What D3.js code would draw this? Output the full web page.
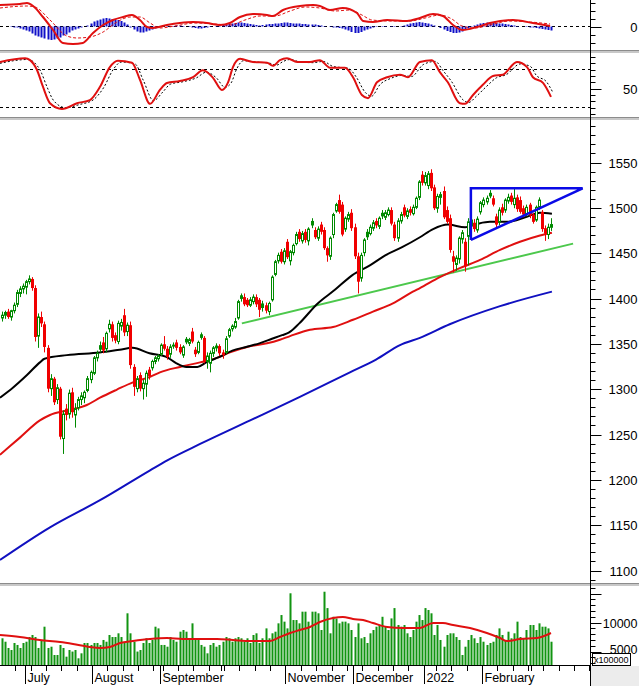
<!DOCTYPE html>
<html><head><meta charset="utf-8">
<script src="https://cdn.jsdelivr.net/npm/d3@7"></script>
<style>body{margin:0;background:#fff}svg{display:block}text{font-family:Arial,"Liberation Sans",sans-serif;fill:#000}</style>
</head><body>
<svg id="c" width="639" height="686"></svg>
<script>
// ---------------- DATA ----------------
const opens=[1378,1381,1385,1379,1386,1393,1405,1410,1412,1418,1421,1411,1358,1379,1371,1345,1300,1311,1288,1300,1245,1278,1272,1296,1271,1279,1288,1290,1298,1310,1317,1334,1348,1351,1344,1366,1371,1359,1352,1369,1381,1363,1370,1324,1300,1315,1300,1305,1321,1323,1330,1333,1338,1349,1344,1338,1347,1351,1346,1337,1355,1350,1363,1343,1340,1360,1356,1330,1328,1339,1345,1347,1340,1340,1358,1366,1368,1378,1403,1401,1398,1392,1396,1401,1398,1394,1392,1385,1398,1426,1441,1451,1440,1462,1441,1450,1460,1473,1463,1473,1463,1485,1475,1466,1481,1475,1455,1446,1470,1496,1508,1503,1476,1487,1494,1478,1446,1422,1450,1473,1471,1477,1485,1479,1494,1489,1492,1497,1481,1466,1485,1500,1490,1498,1493,1500,1511,1536,1527,1524,1538,1522,1499,1511,1518,1497,1488,1446,1437,1443,1465,1462,1468,1480,1483,1475,1495,1503,1506,1516,1510,1490,1484,1500,1497,1507,1513,1503,1511,1508,1499,1493,1503,1492,1486,1500,1495,1477,1470,1478];
const highs=[1385,1386,1388,1387,1395,1409,1413,1416,1420,1425,1423,1414,1383,1385,1374,1348,1316,1313,1305,1302,1276,1283,1299,1301,1284,1291,1296,1298,1314,1320,1336,1342,1352,1357,1363,1376,1374,1362,1375,1377,1388,1373,1374,1327,1314,1318,1310,1320,1324,1332,1336,1338,1350,1358,1347,1349,1351,1354,1349,1348,1357,1356,1367,1346,1353,1362,1358,1340,1342,1347,1350,1349,1343,1358,1367,1371,1378,1398,1405,1405,1400,1401,1404,1404,1400,1397,1395,1396,1425,1442,1450,1454,1455,1465,1453,1460,1473,1476,1474,1476,1478,1488,1478,1479,1484,1478,1457,1468,1494,1505,1514,1506,1490,1495,1498,1482,1450,1450,1466,1476,1481,1486,1488,1490,1497,1497,1500,1500,1484,1488,1495,1503,1499,1501,1503,1512,1530,1540,1539,1540,1542,1525,1515,1517,1523,1501,1492,1452,1447,1468,1475,1466,1488,1490,1487,1490,1507,1511,1513,1519,1513,1493,1500,1504,1510,1515,1516,1522,1514,1512,1502,1503,1505,1494,1502,1511,1497,1480,1482,1488];
const lows=[1374,1377,1377,1375,1383,1390,1401,1405,1404,1415,1408,1352,1345,1368,1340,1296,1292,1282,1283,1244,1228,1265,1267,1268,1257,1276,1282,1284,1296,1306,1315,1330,1340,1339,1340,1362,1352,1350,1349,1364,1358,1358,1322,1292,1296,1297,1288,1291,1310,1320,1327,1330,1336,1342,1332,1334,1344,1342,1338,1334,1349,1347,1350,1335,1338,1354,1328,1322,1318,1335,1341,1336,1333,1338,1356,1363,1366,1376,1396,1391,1390,1390,1393,1390,1379,1385,1383,1381,1396,1424,1438,1438,1437,1443,1436,1447,1458,1462,1460,1461,1458,1477,1465,1463,1470,1453,1440,1442,1466,1494,1493,1468,1473,1484,1474,1443,1405,1418,1446,1464,1469,1474,1477,1476,1487,1486,1490,1480,1463,1462,1482,1489,1487,1491,1491,1498,1508,1524,1524,1520,1518,1497,1494,1503,1487,1482,1450,1428,1430,1438,1460,1429,1436,1476,1473,1472,1492,1500,1503,1510,1501,1478,1480,1491,1494,1504,1503,1499,1495,1493,1489,1490,1488,1482,1484,1497,1473,1463,1465,1474];
const closes=[1381,1384,1379,1386,1392,1406,1410,1413,1418,1421,1411,1357,1379,1372,1346,1300,1311,1285,1301,1247,1272,1271,1295,1274,1278,1288,1292,1296,1311,1318,1334,1339,1343,1342,1361,1371,1356,1353,1372,1373,1362,1370,1326,1302,1311,1300,1306,1317,1314,1330,1334,1336,1348,1344,1335,1346,1348,1345,1340,1346,1351,1354,1352,1338,1351,1356,1330,1336,1339,1345,1347,1339,1337,1355,1365,1369,1374,1396,1399,1393,1392,1398,1401,1393,1387,1389,1386,1394,1423,1440,1447,1440,1452,1445,1451,1458,1470,1465,1471,1464,1476,1480,1467,1476,1473,1455,1447,1466,1492,1503,1495,1470,1488,1492,1477,1446,1418,1447,1464,1467,1478,1483,1480,1488,1490,1494,1497,1482,1466,1485,1492,1491,1496,1494,1500,1510,1528,1527,1535,1537,1521,1499,1512,1514,1489,1484,1453,1440,1444,1466,1472,1435,1484,1486,1476,1487,1505,1508,1510,1512,1503,1481,1497,1494,1508,1511,1506,1510,1498,1495,1492,1500,1491,1484,1500,1508,1476,1471,1478,1481];
const volumes=[7190,6600,5520,5170,6380,6040,5520,6380,6600,7410,7760,7410,5520,6900,9190,5520,5740,4310,4310,6040,5520,4020,5170,4900,5170,3740,4600,6380,6380,6040,6380,6380,6040,6900,6600,7760,7410,7410,8050,7410,6380,11500,8050,6600,4900,5170,6380,7190,6380,6900,9190,8900,6040,6040,5740,7410,6900,6600,8330,8620,8330,7190,9770,6900,7190,6040,5740,4600,6040,6380,5740,6040,6600,7410,7190,6600,7190,7410,7190,6600,7190,6380,7760,8050,6380,7190,8900,7190,8050,8330,9770,11200,10060,8900,14950,10340,10340,9770,11780,11780,10060,11780,11780,11500,8620,15220,12400,8050,10900,10600,9770,10060,10060,9770,8620,7410,9770,7190,7410,6380,8050,8620,9190,9480,10900,9190,8620,10620,12400,9480,9190,9480,8050,7410,8620,10060,11200,10340,12400,12070,11500,7760,9480,6900,5740,7760,8050,8050,7410,6900,4310,5740,6900,7760,7190,6380,7410,6600,6040,6380,6600,7760,8900,7760,6900,8330,7190,8050,10060,7410,7190,8620,9480,9480,8620,9770,9190,9190,8900,6600];
// moving averages: [bar index, value]
const maBlack=[[-0.5,1290],[3.7,1301],[8.3,1315],[12.5,1329],[14,1333],[21.3,1337],[32,1340],[38.5,1343],[42.7,1345],[48.2,1339],[53.7,1335],[57,1328],[60.2,1324],[63.8,1324],[66.7,1329],[71,1335],[75.2,1342],[79.7,1346],[84,1350],[88.1,1355],[91.4,1359],[93.7,1362],[97,1372],[103,1394],[108.6,1409],[114.2,1425],[120,1436],[125,1447],[130.5,1456],[136.3,1467],[140.6,1476],[145.4,1481],[151,1478],[155.2,1482],[159.1,1484],[164.7,1484],[170.6,1489],[175.4,1494],[179.3,1493]];
const maRed=[[-0.5,1227],[6,1246],[12.5,1265],[15.8,1271],[21.3,1276],[27.8,1282],[32.1,1290],[37.6,1299],[42.8,1307],[48.4,1313],[51.6,1318],[58.1,1324],[64.7,1329],[70.2,1334],[74.4,1340],[80,1346],[86.5,1350],[90.7,1354],[94,1358],[100.5,1365],[108,1368],[114.5,1376],[121,1385],[127.5,1394],[134,1407],[136.3,1411],[142.8,1423],[149.3,1433],[155.9,1442],[162.4,1453],[168.9,1462],[175.4,1469],[179.3,1472]];
const maBlue=[[-0.5,1111],[15.8,1147],[32.1,1177],[48.4,1210],[54,1221],[64.7,1239],[81,1265],[97.2,1291],[113.5,1318],[122,1332],[129.8,1348],[136.3,1356],[146,1371],[162.4,1391],[179.3,1407]];
const trendGreen=[[78.3,1372],[186.2,1460]];
const triangle=[[152.9,1464],[152.9,1521],[189.3,1521],[152.9,1464]];
const volMA=[[-0.5,7760],[6,7410],[12.5,6900],[19.1,6550],[23.3,6210],[28.8,5690],[32.1,5520],[35.3,5690],[38.6,6380],[42.8,6720],[48.4,7070],[53.9,7240],[59.1,7070],[64.7,7070],[70.2,7070],[75.4,6900],[81,6720],[87.5,6720],[90.7,7410],[94,8100],[97.2,8620],[100.5,9140],[103.7,10000],[108,10690],[111.2,10860],[114.5,10520],[117.8,10340],[121,9830],[125.6,9140],[130.8,8970],[136.3,8970],[140.6,9830],[143.8,9830],[147.1,9480],[152.6,8970],[158.1,8100],[162.4,7240],[164.7,6720],[168.9,7070],[174.4,7240],[179,8100]];
const macdLine=[[-0.5,21.5],[6,22.5],[8.3,23.5],[10.3,20.5],[13.5,9.5],[16.8,-3.5],[20,-16.5],[23.3,-17.5],[26.5,-16.5],[29.8,-6.5],[33.1,1.5],[36.3,6.5],[39.6,9.5],[42.5,11.5],[45.1,6.5],[47.4,-0.5],[49.3,-1.5],[53.9,1.5],[58.1,3.5],[62.4,4.5],[66.9,3.5],[71.2,1.5],[74.4,3.5],[77.7,9.5],[81.9,12.5],[86.5,11.5],[88.4,10.5],[91.7,16.5],[97.2,20.5],[101.5,21.5],[103.7,20.5],[107,16.5],[111.2,18.5],[115.8,13.5],[117.8,5.5],[121,4.5],[125.6,6.5],[132.1,5.5],[136.3,8.5],[140.6,12.5],[143.8,10.5],[147.1,1.5],[150.3,-3.5],[154.9,-0.5],[159.1,3.5],[166.6,6.5],[173.1,3.5],[178.7,0.5]];
const macdSignal=[[-0.5,18.5],[8.3,20.5],[10.9,19.5],[15.8,6.5],[21.3,-9.5],[24.6,-11.5],[28.8,-10.5],[33.1,-5.5],[37.6,4.5],[41.9,9.5],[45.1,9.5],[48.4,3.5],[51.6,-1.5],[56.5,0.5],[63,3.5],[69.5,2.5],[74.4,1.5],[79.3,6.5],[84.2,10.5],[89.1,10.5],[94,15.5],[98.9,19.5],[103.7,18.5],[108.6,15.5],[113.5,16.5],[117.4,11.5],[120.7,6.5],[126.5,5.5],[133.1,5.5],[138,8.5],[142.8,11.5],[146.7,7.5],[150,0.5],[154.2,-1.5],[159.1,1.5],[165.6,5.5],[172.2,4.5],[178.7,2.5]];
const macdHist=[0,0,0,-0.5,-1,-1,-2,-3,-4,-5,-7,-9,-10,-11,-12,-13,-13.5,-13,-12,-11,-9,-8,-6,-4,-3,-2,-1,0,1,3,5,6,7,8,8.5,8,7.5,7,6.5,5.5,4,2,-1,-3,-5,-6,-6,-5,-4,-3,-2,-1,-0.5,0,0.5,0.5,0.5,1,1,0.5,0,-0.5,-1,-1.5,-2,-2,-1.5,-1,-0.5,0,0.5,1,1.5,2,2.5,3,3.5,4,4,3.5,3,2.5,2,1.5,1,1.5,2,2.5,2.5,3,3,3.5,4,4,3.5,3,3,3,2.5,2.5,2,2,2,1.5,1,0.5,0,-0.5,-1,-1,-1.5,-2,-3,-4,-5.5,-6.5,-6.5,-5.5,-4,-3,-2,-1,-0.5,0,0.5,0.5,0,-0.5,-0.5,0,0.5,1,2,3,3.5,4,4.5,4,3.5,3,2,1,0,-1.5,-3,-4.5,-5.5,-6.5,-6.5,-6,-5,-3.5,-2,-0.5,1,2,3,3.5,4,4,3.5,3.5,3,3,2.5,2,1.5,1,0.5,0,0,-0.5,-1,-1,-1.5,-2,-2.5,-3,-3.5,-4];
const stochK=[[-0.5,91],[7.7,97],[9.3,94],[11.6,78],[13.5,52],[15.8,26],[19.7,17],[24.6,26],[28.8,31],[32.1,52],[35.3,83],[37.9,93],[42.5,90],[45.1,63],[48.4,25],[51.6,47],[53.9,58],[58.1,61],[62.4,67],[65.6,78],[68.9,66],[71.8,47],[73.8,59],[75.4,83],[77.7,96],[81.9,91],[86.5,90],[88.4,85],[90.7,94],[93,97],[96.3,91],[100.5,91],[103.7,94],[107,82],[111.9,82],[114.5,67],[117.4,39],[119.4,34],[122.3,59],[125.6,67],[129.8,71],[132.4,67],[136.3,91],[140.2,94],[142.8,75],[145.4,59],[149.3,26],[151,25],[153.6,39],[156.8,55],[160.1,69],[163.3,71],[167.9,91],[171.2,83],[173.1,67],[176.4,58],[179,36]];
const stochD=[[-0.5,89],[8.5,95],[10.5,91],[12.8,76],[14.8,52],[17,30],[20.8,19],[25.5,24],[29.8,31],[33.2,50],[36.5,80],[39,91],[43.5,88],[46.2,62],[49.5,30],[52.6,44],[55,56],[59.2,60],[63.5,66],[66.7,75],[70,66],[72.8,51],[74.8,58],[76.6,80],[78.8,93],[83,91],[87.5,89],[89.5,86],[91.8,92],[94,95],[97.4,91],[101.5,90],[104.8,92],[108,84],[113,81],[115.6,67],[118.5,43],[120.5,37],[123.4,56],[126.7,65],[130.8,70],[133.5,68],[137.4,87],[141.3,92],[143.9,77],[146.5,61],[150.4,31],[152.1,27],[154.7,37],[157.9,52],[161.2,66],[164.4,71],[169,88],[172.3,84],[174.2,70],[177.5,60],[179.5,44]];
// axes
const priceTicks=[1100,1150,1200,1250,1300,1350,1400,1450,1500,1550];
const volTicks=[5000,10000];
const monthTicks=[7.5,29.5,51.5,92.5,114.5,137.5,156.5];
const monthLabels=["July","August","September","November","December","2022","February"];
const weekTicks=[4.5,9.5,14.5,19.5,24.5,34.5,39.5,44.5,49.5,52.5,57.5,62.5,67.5,71.5,72.5,77.5,82.5,87.5,97.5,102.5,107.5,112.5,117.5,122.5,127.5,132.5,141.5,146.5,151.5,161.5,166.5,171.5,172.5,176.5,181.5,186.5,191.5];

// ---------------- LAYOUT ----------------
const AX=590;
const svg=d3.select('#c');
const x=d3.scaleLinear().domain([0,179]).range([1.5,551]);
const yM=d3.scaleLinear().domain([0,10]).range([26.5,16.5]);
const yS=d3.scaleLinear().domain([20,80]).range([107,69]);
const yP=d3.scaleLinear().domain([1100,1550]).range([570,162]);
const yV=d3.scaleLinear().domain([5000,10000]).range([651,622]);
const panels={macd:[0,50],stoch:[53,117],price:[120,583],vol:[586,665]};

const defs=svg.append('defs');
Object.entries(panels).forEach(([k,[a,b]])=>{
  defs.append('clipPath').attr('id','cl-'+k).append('rect').attr('x',0).attr('y',a).attr('width',AX).attr('height',b-a);
});
const gM=svg.append('g').attr('clip-path','url(#cl-macd)');
const gS=svg.append('g').attr('clip-path','url(#cl-stoch)');
const gP=svg.append('g').attr('clip-path','url(#cl-price)');
const gV=svg.append('g').attr('clip-path','url(#cl-vol)');
const cx=i=>Math.round(x(i))+0.5;

// ---- MACD panel
gM.append('line').attr('x1',0).attr('x2',AX).attr('y1',yM(0)).attr('y2',yM(0)).attr('stroke','#000').attr('stroke-dasharray','3,3');
gM.selectAll('line.h').data(macdHist).join('line').attr('class','h')
  .attr('x1',(d,i)=>cx(i)).attr('x2',(d,i)=>cx(i)).attr('y1',yM(0)).attr('y2',d=>yM(d))
  .attr('stroke','#1010c8').attr('stroke-width',2);
const lineF=(ys)=>d3.line().x(d=>x(d[0])).y(d=>ys(d[1])).curve(d3.curveMonotoneX);
gM.append('path').attr('d',lineF(yM)(macdSignal)).attr('fill','none').attr('stroke','#e01010').attr('stroke-width',1).attr('stroke-dasharray','3,2');
gM.append('path').attr('d',lineF(yM)(macdLine)).attr('fill','none').attr('stroke','#e01010').attr('stroke-width',2);

// ---- Stochastic panel
[80,20].forEach(v=>gS.append('line').attr('x1',0).attr('x2',AX).attr('y1',Math.round(yS(v))+0.5).attr('y2',Math.round(yS(v))+0.5).attr('stroke','#000').attr('stroke-dasharray','3,3'));
gS.append('path').attr('d',lineF(yS)(stochD)).attr('fill','none').attr('stroke','#000').attr('stroke-width',1).attr('stroke-dasharray','2,2');
gS.append('path').attr('d',lineF(yS)(stochK)).attr('fill','none').attr('stroke','#e01010').attr('stroke-width',2);

// ---- Price panel
const lin=d3.line().x(d=>x(d[0])).y(d=>yP(d[1]));
gP.append('path').attr('d',lineF(yP)(maBlue)).attr('fill','none').attr('stroke','#1010c0').attr('stroke-width',2);
gP.append('path').attr('d',lin(trendGreen)).attr('fill','none').attr('stroke','#4cc84c').attr('stroke-width',2);
gP.append('path').attr('d',lineF(yP)(maRed)).attr('fill','none').attr('stroke','#e01010').attr('stroke-width',2);
gP.append('path').attr('d',lineF(yP)(maBlack)).attr('fill','none').attr('stroke','#000').attr('stroke-width',2);
const candles=closes.map((c,i)=>({i,o:opens[i],h:highs[i],l:lows[i],c,pc:i>0?closes[i-1]:opens[i]}));
const col=d=>d.c>=d.pc?'#008a00':'#f00000';
const cg=gP.append('g');
cg.selectAll('line').data(candles).join('line')
  .attr('x1',d=>cx(d.i)).attr('x2',d=>cx(d.i)).attr('y1',d=>yP(d.h)).attr('y2',d=>yP(d.l)).attr('stroke',col).attr('stroke-width',1);
cg.selectAll('rect').data(candles).join('rect')
  .attr('x',d=>d.c>d.o?cx(d.i)-1:cx(d.i)-1.5)
  .attr('y',d=>yP(Math.max(d.o,d.c)))
  .attr('width',d=>d.c>d.o?2:3)
  .attr('height',d=>Math.max(1,Math.abs(yP(d.o)-yP(d.c))))
  .attr('fill',d=>d.c>d.o?'#fff':col(d))
  .attr('stroke',d=>d.c>d.o?col(d):'none').attr('stroke-width',1);
gP.append('path').attr('d',lin(triangle)).attr('fill','none').attr('stroke','#0a0ae6').attr('stroke-width',2.5);

// ---- Volume panel
gV.selectAll('rect').data(volumes).join('rect')
  .attr('x',(d,i)=>Math.round(x(i))-0.5).attr('width',2)
  .attr('y',d=>yV(d)).attr('height',d=>665-yV(d)).attr('fill','#119411');
gV.append('path').attr('d',lineF(yV)(volMA)).attr('fill','none').attr('stroke','#e01010').attr('stroke-width',2);

// ---- separators
[[50,53],[117,120],[583,586]].forEach(([a,b])=>{
  svg.append('rect').attr('x',0).attr('y',a).attr('width',639).attr('height',b-a).attr('fill','#c8c8c8');
  svg.append('line').attr('x1',0).attr('x2',639).attr('y1',a+0.5).attr('y2',a+0.5).attr('stroke','#8c8c8c');
});

// ---- corner box (drawn before the axis labels so the 5000 label stays readable on top edge)
svg.append('rect').attr('x',591).attr('y',666).attr('width',48).attr('height',20).attr('fill','#ececec');
svg.append('rect').attr('x',592.5).attr('y',653.5).attr('width',38).attr('height',12).attr('fill','#fff').attr('stroke','#000');
svg.append('text').attr('x',594).attr('y',663).attr('font-size',9).text('x100000');

// ---- right axes
const axG=svg.append('g');
axG.append('line').attr('x1',AX+0.5).attr('x2',AX+0.5).attr('y1',0).attr('y2',686).attr('stroke','#000');
function yaxis(scale,major,minor,labels,yr,fs){
  const g=axG.append('g').attr('transform',`translate(${AX+0.5},0)`);
  const inR=v=>{const p=scale(v);return p>yr[0]+1&&p<yr[1]-1;};
  g.call(d3.axisRight(scale).tickValues(minor.filter(inR)).tickSize(5).tickFormat(''));
  g.call(g2=>g2.select('.domain').remove());
  const g3=axG.append('g').attr('transform',`translate(${AX+0.5},0)`);
  g3.call(d3.axisRight(scale).tickValues(major.filter(inR)).tickSize(11).tickFormat(d=>labels?d:''));
  g3.select('.domain').remove();
  g3.selectAll('text').attr('x',47).attr('text-anchor','end').attr('font-size',fs||13).attr('font-family','Arial,"Liberation Sans",sans-serif').attr('fill','#000').attr('dy','0.36em');
  g.selectAll('.tick line').attr('stroke','#000');
  g3.selectAll('.tick line').attr('stroke','#000');
  const snap=function(){const t=d3.select(this).attr('transform');return t.replace(/,([\d.]+)\)/,(m,p)=>','+(Math.round(+p)+0.5)+')');};
  g.selectAll('.tick').attr('transform',snap);
  g3.selectAll('.tick').attr('transform',snap);
  return g3;
}
yaxis(yM,[0],[-16,-8,8,16,24],true,panels.macd);
yaxis(yS,[50],[10,20,30,40,60,70,80,90,100],true,panels.stoch);
yaxis(yP,priceTicks,d3.range(1090,1600,10).filter(v=>v%50),true,panels.price);
const gv=yaxis(yV,volTicks.concat([15000]),d3.range(3000,17000,1000).filter(v=>v%5000),true,panels.vol,12.5);
gv.selectAll('text').filter(function(){return d3.select(this).text()==='15000';}).remove();
gv.selectAll('text').filter(function(){return d3.select(this).text()==='5000';}).attr('dy','0.1em');

// ---- bottom x axis
const xg=svg.append('g');
xg.append('line').attr('x1',0).attr('x2',AX).attr('y1',665.5).attr('y2',665.5).attr('stroke','#000');
xg.selectAll('line.w').data(weekTicks).join('line').attr('class','w')
  .attr('x1',d=>Math.round(x(d))+0.5).attr('x2',d=>Math.round(x(d))+0.5).attr('y1',666).attr('y2',671).attr('stroke','#000');
xg.selectAll('line.m').data(monthTicks).join('line').attr('class','m')
  .attr('x1',d=>Math.round(x(d))+0.5).attr('x2',d=>Math.round(x(d))+0.5).attr('y1',666).attr('y2',684).attr('stroke','#000');
xg.selectAll('text').data(monthLabels).join('text')
  .attr('x',(d,i)=>Math.round(x(monthTicks[i]))+2.5).attr('y',682).attr('font-size',12.5).text(d=>d);
</script>
</body></html>
